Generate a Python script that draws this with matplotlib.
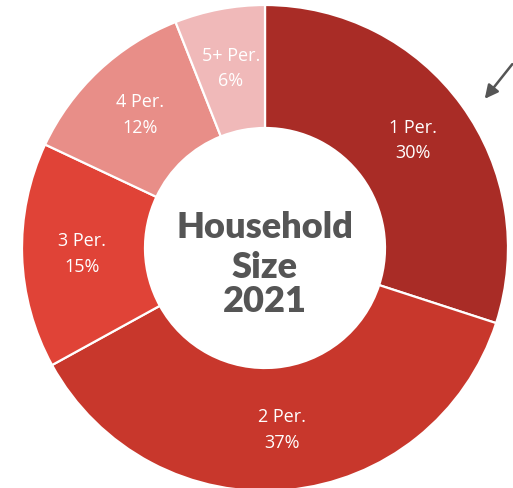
import matplotlib
matplotlib.use("Agg")
import matplotlib.pyplot as plt

categories = ["1 Per.", "2 Per.", "3 Per.", "4 Per.", "5+ Per."]
values = [30, 37, 15, 12, 6]
colors = ["#A92C26", "#C8372C", "#E04337", "#E88E88", "#F0B9B9"]
center_lines = ["Household", "Size", "2021"]

W, H = 513, 488
cx, cy, R, r_in = 265, 248, 243, 120

fig = plt.figure(figsize=(W / 100, H / 100), dpi=100)
ax = fig.add_axes([0, 0, 1, 1])

labels = [f"{c}\n{v}%" for c, v in zip(categories, values)]
wedges, texts = ax.pie(values, colors=colors, startangle=90, counterclock=False,
                       radius=1.0, labels=labels, labeldistance=0.752,
                       wedgeprops=dict(width=1 - r_in / R, edgecolor="white", linewidth=1.6),
                       textprops=dict(color="white", fontsize=13, family="Open Sans",
                                      ha="center", va="center", linespacing=1.55))
for t in texts:
    t.set_horizontalalignment("center")

ax.set_xlim(-cx / R, (W - cx) / R)
ax.set_ylim(-(H - cy) / R, cy / R)
ax.set_aspect("equal")
ax.axis("off")

ys = [228, 268, 302]
for line, y in zip(center_lines, ys):
    ax.text(0, (cy - y) / R, line, ha="center", va="center", fontsize=26,
            fontweight="heavy", family="Lato", color="#555555")

ax.annotate("", xy=((483 - cx) / R, (cy - 101) / R), xytext=((514 - cx) / R, (cy - 62) / R),
            arrowprops=dict(arrowstyle="-|>,head_length=0.8,head_width=0.4", color="#555555", lw=1.8),
            annotation_clip=False)

fig.savefig("out.png", dpi=100)
